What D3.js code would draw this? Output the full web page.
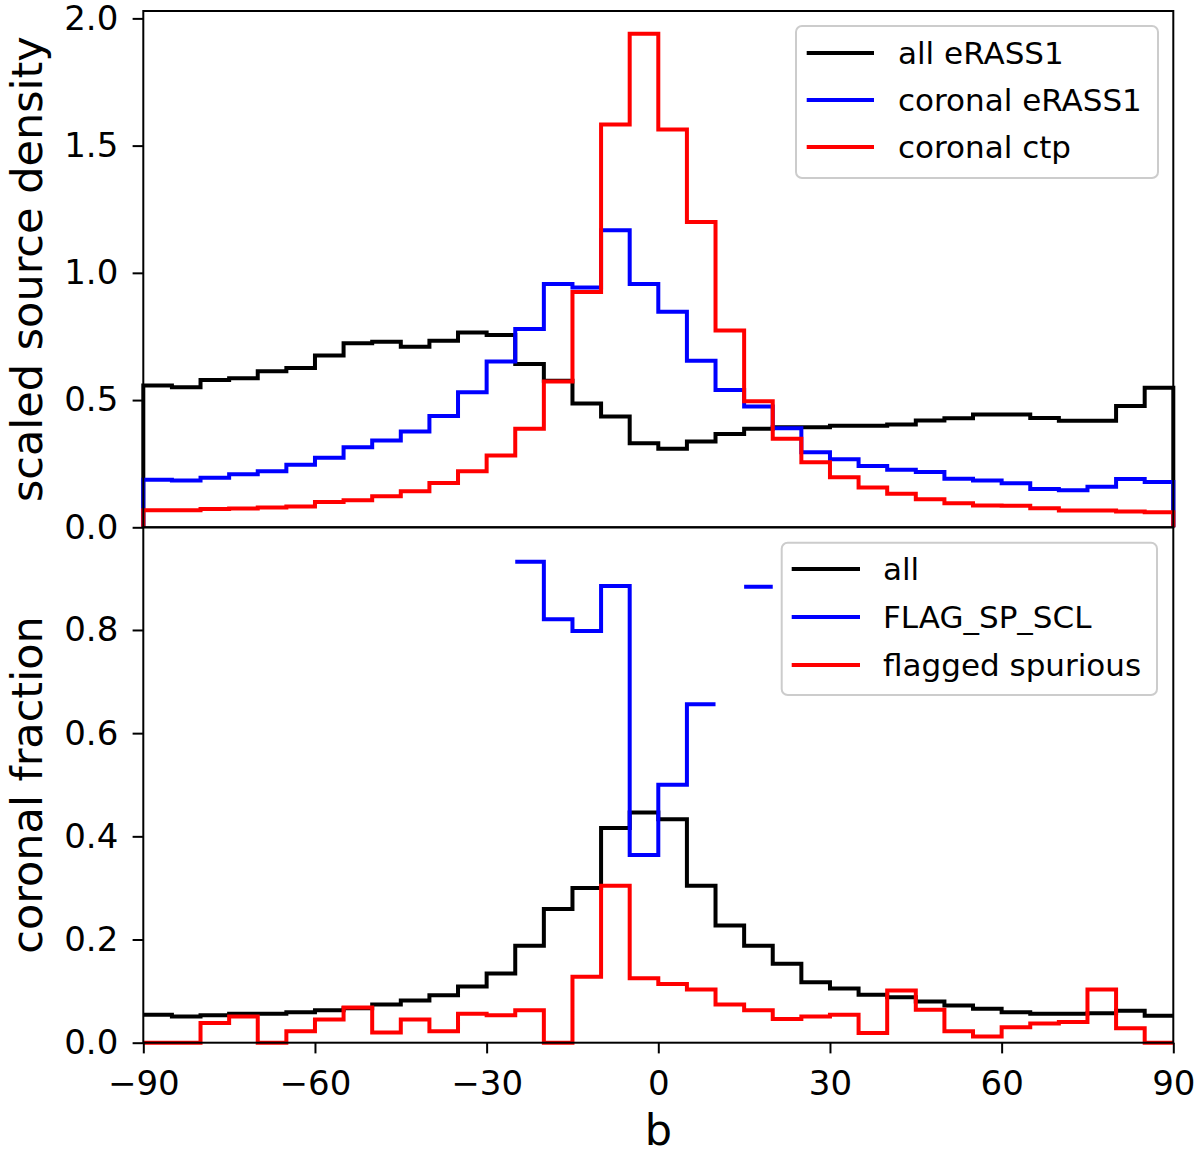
<!DOCTYPE html>
<html>
<head>
<meta charset="utf-8">
<script src="https://cdn.jsdelivr.net/npm/d3@7"></script>
<style>
  body { margin: 0; background: #fff; }
  svg text { font-family: "DejaVu Sans", sans-serif; fill: #000; }
</style>
</head>
<body>
<svg id="chart" width="1200" height="1155"></svg>
<script>
// bin edges in galactic latitude b (5 deg bins)
const binEdges = [-90, -85, -80, -75, -70, -65, -60, -55, -50, -45, -40, -35, -30, -25, -20, -15, -10, -5,
  0, 5, 10, 15, 20, 25, 30, 35, 40, 45, 50, 55, 60, 65, 70, 75, 80, 85, 90];

// top panel: scaled source density
const allERASS1 = [0.557, 0.55, 0.579, 0.586, 0.613, 0.626, 0.675, 0.723, 0.729, 0.71, 0.733, 0.766,
  0.756, 0.642, 0.576, 0.487, 0.435, 0.33, 0.309, 0.337, 0.367, 0.387, 0.393, 0.393, 0.399, 0.399,
  0.404, 0.42, 0.429, 0.443, 0.443, 0.43, 0.419, 0.419, 0.477, 0.548];
const coronalERASS1 = [0.187, 0.184, 0.195, 0.208, 0.22, 0.246, 0.273, 0.315, 0.341, 0.376, 0.437, 0.531,
  0.652, 0.779, 0.956, 0.942, 1.167, 0.956, 0.847, 0.655, 0.54, 0.475, 0.389, 0.295, 0.267, 0.241,
  0.226, 0.217, 0.191, 0.184, 0.173, 0.151, 0.146, 0.159, 0.19, 0.178];
const coronalCtp = [0.067, 0.067, 0.072, 0.074, 0.078, 0.082, 0.099, 0.106, 0.122, 0.142, 0.174, 0.22,
  0.282, 0.387, 0.573, 0.925, 1.583, 1.94, 1.563, 1.2, 0.773, 0.495, 0.348, 0.256, 0.197, 0.156,
  0.132, 0.11, 0.095, 0.086, 0.085, 0.075, 0.066, 0.066, 0.062, 0.059];

// bottom panel: coronal fraction (null = no value in that bin)
const fracAll = [0.054, 0.051, 0.053, 0.056, 0.056, 0.059, 0.063, 0.067, 0.074, 0.082, 0.092, 0.109,
  0.134, 0.188, 0.259, 0.3, 0.416, 0.446, 0.433, 0.304, 0.227, 0.188, 0.153, 0.117, 0.105, 0.093,
  0.088, 0.08, 0.072, 0.066, 0.059, 0.056, 0.056, 0.057, 0.062, 0.052];
const fracFlagSpScl = [null, null, null, null, null, null, null, null, null, null, null, null,
  null, 0.932, 0.821, 0.798, 0.885, 0.364, 0.5, 0.656, null, 0.884, null, null, null, null,
  null, null, null, null, null, null, null, null, null, null];
const fracSpurious = [0, 0, 0.038, 0.051, 0, 0.022, 0.045, 0.068, 0.02, 0.045, 0.022, 0.056,
  0.053, 0.063, 0, 0.128, 0.304, 0.125, 0.114, 0.103, 0.074, 0.063, 0.046, 0.051, 0.054, 0.019,
  0.101, 0.064, 0.022, 0.012, 0.03, 0.037, 0.04, 0.103, 0.028, 0];

const xTicks = [-90, -60, -30, 0, 30, 60, 90];
const topTicks = [0, 0.5, 1.0, 1.5, 2.0];
const bottomTicks = [0, 0.2, 0.4, 0.6, 0.8];

const topLegend = ["all eRASS1", "coronal eRASS1", "coronal ctp"];
const bottomLegend = ["all", "FLAG_SP_SCL", "flagged spurious"];
const colors = ["#000000", "#0000ff", "#ff0000"];

const svg = d3.select("#chart");
const left = 143.3, right = 1173.3;
const topY0 = 11, mid = 527.3, botY1 = 1042.7;
const tickFont = 34, labelFont = 43, legendFont = 31;

const x = d3.scaleLinear().domain([-90, 90]).range([left, right]);
const yTop = d3.scaleLinear().domain([0, 2.029]).range([mid, topY0]);
const yBot = d3.scaleLinear().domain([0, 0.999]).range([botY1, mid]);

// turn per-bin values into step outline points
const stepPoints = (values, closed) => {
  const pts = [];
  values.forEach((v, i) => {
    pts.push([binEdges[i], v]);
    pts.push([binEdges[i + 1], v]);
  });
  if (closed) {
    pts.unshift([binEdges[0], 0]);
    pts.push([binEdges[binEdges.length - 1], 0]);
  }
  return pts;
};

const drawSteps = (g, y, series, closed) => {
  const line = d3.line()
    .defined((d) => d[1] != null)
    .x((d) => x(d[0]))
    .y((d) => y(d[1]));
  series.forEach((vals, i) => {
    g.append("path")
      .attr("d", line(stepPoints(vals, closed)))
      .attr("fill", "none")
      .attr("stroke", colors[i])
      .attr("stroke-width", 4)
      .attr("stroke-linejoin", "miter");
  });
};

const topG = svg.append("g");
drawSteps(topG, yTop, [allERASS1, coronalERASS1, coronalCtp], true);
const botG = svg.append("g");
drawSteps(botG, yBot, [fracAll, fracFlagSpScl, fracSpurious], false);

// axes
const styleAxis = (g) => {
  g.select(".domain").remove();
  g.selectAll(".tick line").attr("stroke", "#000").attr("stroke-width", 2);
  g.selectAll(".tick text").style("font-size", tickFont + "px").attr("font-family", "DejaVu Sans");
};

svg.append("g")
  .attr("transform", `translate(${left},0)`)
  .call(d3.axisLeft(yTop).tickValues(topTicks).tickFormat(d3.format(".1f")).tickSize(10.7).tickPadding(14.3))
  .call(styleAxis);

svg.append("g")
  .attr("transform", `translate(${left},0)`)
  .call(d3.axisLeft(yBot).tickValues(bottomTicks).tickFormat(d3.format(".1f")).tickSize(10.7).tickPadding(14.3))
  .call(styleAxis);

svg.append("g")
  .attr("transform", `translate(0,${botY1})`)
  .call(d3.axisBottom(x).tickValues(xTicks).tickFormat((d) => d < 0 ? "\u2212" + Math.abs(d) : d).tickSize(10.7).tickPadding(17.6))
  .call(styleAxis);

// frames
[[topY0, mid], [mid, botY1]].forEach(([y0, y1]) => {
  svg.append("rect")
    .attr("x", left).attr("y", y0)
    .attr("width", right - left).attr("height", y1 - y0)
    .attr("fill", "none").attr("stroke", "#000").attr("stroke-width", 2);
});

// axis labels
svg.append("text")
  .attr("transform", `translate(42,${(topY0 + mid) / 2}) rotate(-90)`)
  .attr("text-anchor", "middle")
  .style("font-size", labelFont + "px")
  .text("scaled source density");
svg.append("text")
  .attr("transform", `translate(42,${(mid + botY1) / 2}) rotate(-90)`)
  .attr("text-anchor", "middle")
  .style("font-size", labelFont + "px")
  .text("coronal fraction");
svg.append("text")
  .attr("x", (left + right) / 2).attr("y", 1145)
  .attr("text-anchor", "middle")
  .style("font-size", labelFont + "px")
  .text("b");

// legends
const drawLegend = (labels, box, handleX, textX, rows) => {
  const g = svg.append("g");
  g.append("rect")
    .attr("x", box[0]).attr("y", box[1])
    .attr("width", box[2] - box[0]).attr("height", box[3] - box[1])
    .attr("rx", 6)
    .attr("fill", "#fff").attr("fill-opacity", 0.8)
    .attr("stroke", "#cccccc").attr("stroke-width", 2);
  labels.forEach((lab, i) => {
    g.append("line")
      .attr("x1", handleX[0]).attr("x2", handleX[1])
      .attr("y1", rows[i]).attr("y2", rows[i])
      .attr("stroke", colors[i]).attr("stroke-width", 4);
    g.append("text")
      .attr("x", textX).attr("y", rows[i] + 11)
      .style("font-size", legendFont + "px")
      .text(lab);
  });
};

drawLegend(topLegend, [796, 26, 1158, 178], [806.7, 874], 898, [53, 100, 147]);
drawLegend(bottomLegend, [781.7, 542.7, 1157, 695], [791.7, 860], 883, [569, 617, 665]);
</script>
</body>
</html>
